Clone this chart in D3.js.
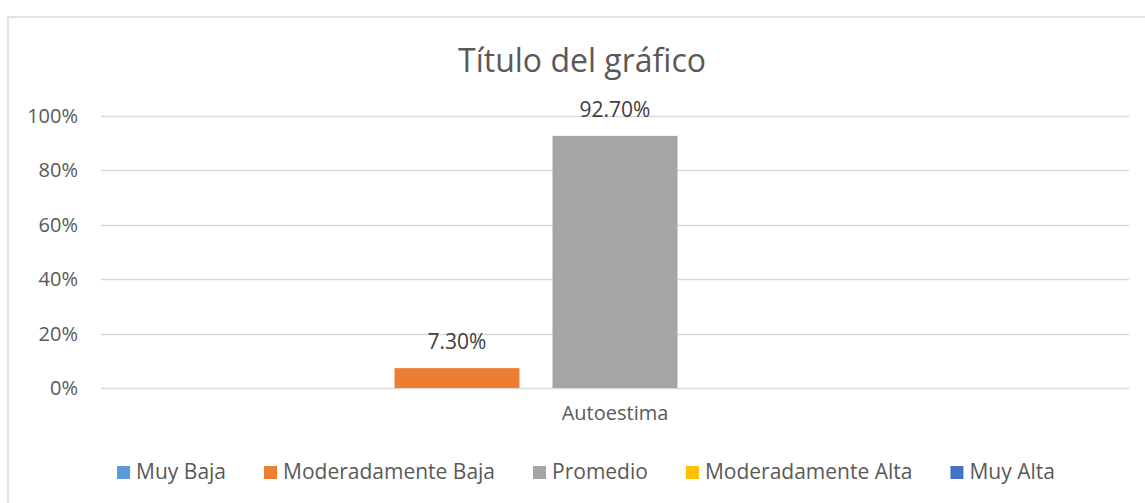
<!DOCTYPE html>
<html>
<head>
<meta charset="utf-8">
<script src="https://cdn.jsdelivr.net/npm/d3@7"></script>
<style>
  html, body { margin: 0; padding: 0; background: #fff; }
  svg { display: block; font-family: "Open Sans", sans-serif; }
</style>
</head>
<body>
<svg id="chart" width="1145" height="503"></svg>
<script>
const categories = ["Autoestima"];
const seriesNames = ["Muy Baja", "Moderadamente Baja", "Promedio", "Moderadamente Alta", "Muy Alta"];
const seriesValues = [null, 0.073, 0.927, null, null];
const seriesColors = ["#5B9BD5", "#ED7D31", "#A5A5A5", "#FFC000", "#4472C4"];
const yTicks = [0, 0.2, 0.4, 0.6, 0.8, 1.0];

const W = 1145, H = 503;
const m = { top: 116, right: 16, bottom: 115, left: 101 };
const iW = 1129 - m.left;
const iH = 388 - m.top;
const textColor = "#595959";
const gridColor = "#d9d9d9";

const svg = d3.select("#chart");

// chart frame (right/bottom edges fall outside the picture)
svg.append("rect")
  .attr("x", 8).attr("y", 17).attr("width", 1160).attr("height", 520)
  .attr("fill", "none").attr("stroke", gridColor).attr("stroke-width", 1.5);

// Title
svg.append("text")
  .attr("x", 582).attr("y", 72)
  .attr("text-anchor", "middle")
  .style("fill", textColor).style("font-size", "32px")
  .text("Título del gráfico");

const g = svg.append("g").attr("transform", `translate(${m.left},${m.top})`);

const y = d3.scaleLinear().domain([0, 1]).range([iH, 0]);
const x0 = d3.scaleBand().domain(categories).range([0, iW]).paddingInner(0).paddingOuter(0.179);
const x1 = d3.scaleBand().domain(seriesNames).range([0, x0.bandwidth()]).paddingInner(0.209).paddingOuter(0);

// Grid
g.append("g").selectAll("line").data(yTicks).join("line")
  .attr("x1", 0).attr("x2", iW)
  .attr("y1", d => Math.round(y(d)) + 0.5).attr("y2", d => Math.round(y(d)) + 0.5)
  .attr("stroke", gridColor).attr("stroke-width", 1.3);

// Y axis labels
g.append("g")
  .call(d3.axisLeft(y).tickValues(yTicks).tickFormat(d3.format(".0%")).tickSize(0).tickPadding(23))
  .call(ax => {
    ax.select(".domain").remove();
    ax.selectAll(".tick text").style("fill", textColor).style("font-size", "20px")
      .style("font-family", "'Open Sans', sans-serif");
  });

// X axis label
g.append("g")
  .attr("transform", `translate(0,${iH})`)
  .call(d3.axisBottom(x0).tickSize(0).tickPadding(18))
  .call(ax => {
    ax.select(".domain").remove();
    ax.selectAll(".tick text").style("fill", textColor).style("font-size", "20px")
      .style("font-family", "'Open Sans', sans-serif");
  });

// Bars
const rows = seriesNames.map((s, i) => ({ cat: categories[0], series: s, value: seriesValues[i], color: seriesColors[i] }))
  .filter(d => d.value !== null);

const grp = g.append("g").attr("transform", `translate(${x0(categories[0])},0)`);
grp.selectAll("rect").data(rows).join("rect")
  .attr("x", d => x1(d.series))
  .attr("y", d => y(d.value))
  .attr("width", x1.bandwidth())
  .attr("height", d => y(0) - y(d.value))
  .attr("fill", d => d.color);

grp.selectAll(".lbl").data(rows).join("text")
  .attr("class", "lbl")
  .attr("x", d => x1(d.series) + x1.bandwidth() / 2)
  .attr("y", d => y(d.value) - 19)
  .attr("text-anchor", "middle")
  .style("fill", "#404040").style("font-size", "21px")
  .text(d => d3.format(".2%")(d.value));

// Legend
const legend = svg.append("g");
let lx = 0;
const gap = 38;
seriesNames.forEach((s, i) => {
  const it = legend.append("g").attr("transform", `translate(${lx},0)`);
  it.append("rect").attr("x", 0).attr("y", -13).attr("width", 13).attr("height", 13).attr("fill", seriesColors[i]);
  const t = it.append("text").attr("x", 19).attr("y", 0)
    .style("fill", textColor).style("font-size", "21px").text(s);
  lx += 19 + t.node().getComputedTextLength() + gap;
});
const legW = lx - gap;
legend.attr("transform", `translate(${586 - legW / 2},479)`);
</script>
</body>
</html>
